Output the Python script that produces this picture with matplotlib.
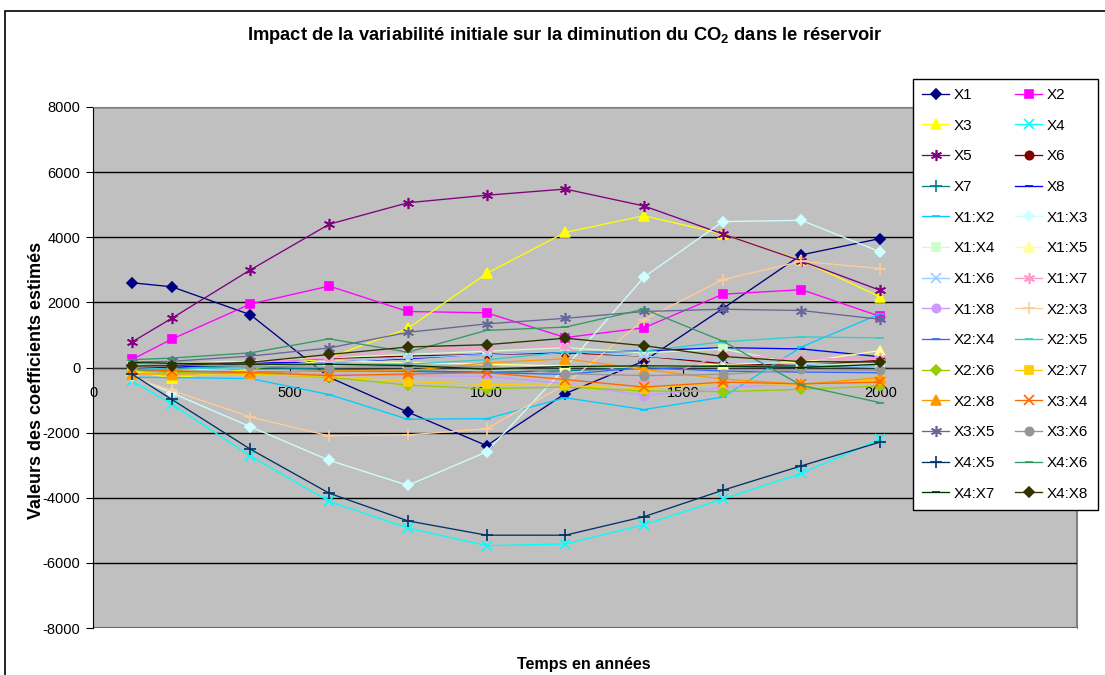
import matplotlib
matplotlib.use('Agg')
import matplotlib.pyplot as plt
from matplotlib.patches import Rectangle

plt.rcParams['font.family'] = ['Liberation Sans', 'DejaVu Sans']
plt.rcParams['mathtext.fontset'] = 'custom'
plt.rcParams['mathtext.rm'] = 'Liberation Sans:bold'
plt.rcParams['mathtext.default'] = 'rm'
plt.rcParams['axes.unicode_minus'] = False

# time axis (years)
years = [100, 200, 400, 600, 800, 1000, 1200, 1400, 1600, 1800, 2000]

# estimated coefficients per term
x1 = [2600, 2480, 1620, -300, -1370, -2400, -800, 200, 1810, 3460, 3960]
x2 = [250, 870, 1950, 2500, 1720, 1680, 920, 1220, 2250, 2390, 1570]
x3 = [-100, -330, -50, 300, 1200, 2890, 4150, 4660, 4100, 3290, 2170]
x4 = [-420, -1120, -2720, -4110, -4930, -5470, -5420, -4830, -4040, -3250, -2200]
x5 = [790, 1510, 3000, 4400, 5060, 5290, 5480, 4960, 4100, 3270, 2370]
x6 = [120, 150, 190, 280, 350, 400, 450, 350, 120, 60, 220]
x7 = [80, 50, 0, -50, -100, -150, -100, 0, 50, 50, 0]
x8 = [0, 0, 140, 160, 270, 420, 450, 510, 610, 570, 330]
x1x2 = [-300, -310, -340, -830, -1590, -1570, -930, -1290, -910, 630, 1650]
x1x3 = [-270, -780, -1820, -2850, -3620, -2590, 0, 2780, 4480, 4520, 3550]
x1x4 = [100, 150, 200, 300, 400, 500, 610, 450, 570, 100, 100]
x1x5 = [-150, -100, 0, 200, 150, 100, 50, 0, 100, 160, 520]
x1x6 = [-200, -150, 0, 150, 300, 400, 500, 350, 200, 100, 0]
x1x7 = [50, 50, 150, 300, 550, 600, 650, -500, 400, 250, 300]
x1x8 = [-100, -120, -150, -200, -250, -270, -500, -860, -620, -500, -450]
x2x3 = [-300, -700, -1520, -2100, -2070, -1880, -520, 1470, 2700, 3260, 3040]
x2x4 = [-100, -120, -150, -100, -120, -160, -210, 0, -110, -140, -160]
x2x5 = [0, -50, 0, 100, 100, 240, 470, 500, 790, 940, 910]
x2x6 = [-100, -150, -200, -300, -540, -650, -600, -720, -740, -670, -570]
x2x7 = [-100, -250, -220, -270, -430, -520, -550, -650, -470, -520, -370]
x2x8 = [-200, -200, -160, -100, -100, 140, 270, -60, -350, -520, -310]
x3x4 = [-50, -100, -150, -250, -200, -160, -370, -600, -450, -500, -450]
x3x5 = [170, 190, 350, 600, 1080, 1340, 1510, 1720, 1790, 1750, 1480]
x3x6 = [50, 80, 50, 0, 40, 40, -190, -250, -210, -60, -90]
x4x5 = [-210, -980, -2510, -3860, -4710, -5150, -5150, -4580, -3770, -3020, -2290]
x4x6 = [240, 290, 450, 880, 470, 1140, 1240, 1790, 810, -550, -1080]
x4x7 = [150, 130, 100, 100, 60, -50, 30, 50, 40, 0, 100]
x4x8 = [40, 60, 160, 400, 630, 700, 900, 670, 340, 180, 170]

labels = ['X1', 'X2', 'X3', 'X4', 'X5', 'X6', 'X7', 'X8',
          'X1:X2', 'X1:X3', 'X1:X4', 'X1:X5', 'X1:X6', 'X1:X7', 'X1:X8',
          'X2:X3', 'X2:X4', 'X2:X5', 'X2:X6', 'X2:X7', 'X2:X8',
          'X3:X4', 'X3:X5', 'X3:X6', 'X4:X5', 'X4:X6', 'X4:X7', 'X4:X8']
series = [x1, x2, x3, x4, x5, x6, x7, x8,
          x1x2, x1x3, x1x4, x1x5, x1x6, x1x7, x1x8,
          x2x3, x2x4, x2x5, x2x6, x2x7, x2x8,
          x3x4, x3x5, x3x6, x4x5, x4x6, x4x7, x4x8]

# excel 2003 default line colours / markers
colors = ['#000080', '#FF00FF', '#FFFF00', '#00FFFF', '#800080', '#800000', '#008080', '#0000FF',
          '#00CCFF', '#CCFFFF', '#CCFFCC', '#FFFF99', '#99CCFF', '#FF99CC', '#CC99FF',
          '#FFCC99', '#3366FF', '#33CCCC', '#99CC00', '#FFCC00', '#FF9900',
          '#FF6600', '#666699', '#969696', '#003366', '#339966', '#003300', '#333300']
ast = (6, 2, 0)
markers = ['D', 's', '^', 'x', ast, 'o', '+', '_',
           '_', 'D', 's', '^', 'x', ast, 'o',
           '+', '_', '_', 'D', 's', '^',
           'x', ast, 'o', '+', '_', '_', 'D']
msizes = {'D': 5, 's': 6, '^': 7, 'x': 6.5, 'o': 6, '+': 8, '_': 6, ast: 8}

fig = plt.figure(figsize=(11.05, 6.75), dpi=100)
ax = fig.add_axes([93/1105, 1-628/675, (1077-93)/1105, (628-107)/675])
ax.set_facecolor('#C0C0C0')

handles = []
for lab, ys, c, m in zip(labels, series, colors, markers):
    h, = ax.plot(years, ys, color=c, lw=0.95, marker=m, ms=msizes[m],
                 mec=c, mfc=c, mew=1.2, label=lab, zorder=3)
    handles.append(h)

ax.set_xlim(0, 2500)
ax.set_ylim(-8000, 8000)
ax.set_yticks(range(-8000, 8001, 2000))
# 2500 sits under the legend in the original, so leave it out
ax.set_xticks([0, 500, 1000, 1500, 2000])
ax.yaxis.grid(True, color='black', lw=1.0)
ax.set_axisbelow(True)

ax.spines['bottom'].set_position(('data', 0))
ax.spines['bottom'].set_color('#303030')
ax.spines['left'].set_color('black')
ax.spines['top'].set_color('#808080')
ax.spines['right'].set_color('#808080')
ax.add_patch(Rectangle((0, 0), 1, 1, transform=ax.transAxes, fill=False,
                       edgecolor='#808080', lw=1.5, zorder=0.5))
ax.tick_params(axis='y', direction='out', length=5, labelsize=10.5, pad=4)
ax.tick_params(axis='x', direction='out', length=4, labelsize=10.5, pad=9)

fig.text(565/1105, 1-35/675,
         r'Impact de la variabilité initiale sur la diminution du CO$_2$ dans le réservoir',
         ha='center', va='center', fontsize=13.2, fontweight='bold')
fig.text(584/1105, 1-665/675, 'Temps en années', ha='center', va='center',
         fontsize=11.6, fontweight='bold')
fig.text(37/1105, 1-380/675, 'Valeurs des coefficients estimés', ha='center',
         va='center', rotation=90, fontsize=13, fontweight='bold')

# chart area border
fig.patches.append(Rectangle((5/1105, -0.01), 1.02, 1-11/675+0.01,
                             transform=fig.transFigure, fill=False,
                             edgecolor='black', lw=1.2))

order = handles[0::2] + handles[1::2]
leg = fig.legend(order, [h.get_label() for h in order], ncol=2,
                 loc='upper left', bbox_to_anchor=(913/1105, 1-79/675),
                 fontsize=11, frameon=True, fancybox=False,
                 edgecolor='black', framealpha=1, handlelength=1.75,
                 labelspacing=1.09, columnspacing=1.3, handletextpad=0.33,
                 borderpad=0.6, borderaxespad=0)
leg.get_frame().set_linewidth(1.0)

fig.savefig('out.png', dpi=100, facecolor='white')
